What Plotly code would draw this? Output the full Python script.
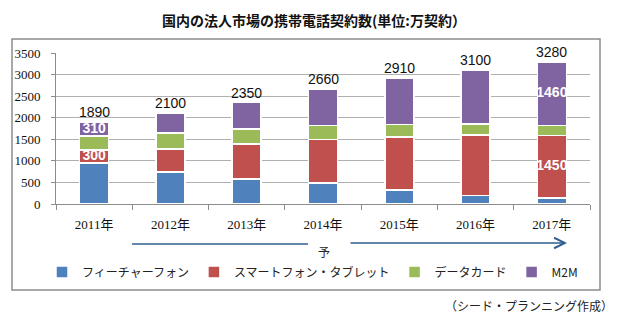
import plotly.graph_objects as go

years = ["2011年", "2012年", "2013年", "2014年", "2015年", "2016年", "2017年"]
feature_phone = [950, 740, 580, 490, 330, 200, 140]
smartphone = [300, 540, 810, 1010, 1220, 1400, 1450]
data_card = [330, 370, 350, 320, 290, 250, 230]
m2m = [310, 450, 610, 840, 1070, 1250, 1460]

series_names = ["フィーチャーフォン", "スマートフォン・タブレット", "データカード", "M2M"]
series_values = [feature_phone, smartphone, data_card, m2m]
colors = ["#4F81BD", "#C0504D", "#9BBB59", "#8064A2"]

# labelled segments inside bars: (series index, year index)
inside_labels = [(3, 0), (1, 0), (3, 6), (1, 6)]

W, H = 624, 328
L, R, T, B = 56, 34, 53, 124
pw, ph = W - L - R, H - T - B


def px(x):
    return (x - L) / pw


def py(y):
    return (H - B - y) / ph


fig = go.Figure()
for name, vals, col in zip(series_names, series_values, colors):
    fig.add_trace(go.Bar(
        x=years, y=vals, name=name,
        marker=dict(color=col, line=dict(color="white", width=1.5)),
        width=0.38,
    ))

totals = [sum(v) for v in zip(*series_values)]
for yr, t in zip(years, totals):
    fig.add_annotation(x=yr, y=t, text=str(t), showarrow=False,
                       yanchor="bottom", xanchor="center", yshift=0,
                       font=dict(family="Liberation Sans, Arial", size=14, color="#111"))

lx, ly, lt = [], [], []
for si, yi in inside_labels:
    base = sum(series_values[k][yi] for k in range(si))
    lx.append(years[yi])
    ly.append(base + series_values[si][yi] / 2)
    lt.append(str(series_values[si][yi]))
fig.add_trace(go.Scatter(
    x=lx, y=ly, mode="text", text=lt, textposition="middle center",
    showlegend=False, hoverinfo="skip", cliponaxis=False,
    textfont=dict(family="Liberation Sans, Arial", size=14, color="white", weight="bold"),
))

# outer frame
fig.add_shape(type="rect", xref="paper", yref="paper",
              x0=px(12), x1=px(600), y0=py(290), y1=py(39),
              line=dict(color="#8C8C8C", width=1.5), layer="below")
# forecast arrow
fig.add_shape(type="line", xref="paper", yref="paper",
              x0=px(132), x1=px(308), y0=py(244), y1=py(244),
              line=dict(color="#2F5F8F", width=1.5))
fig.add_annotation(xref="paper", yref="paper", x=px(567), y=py(243),
                   ax=-(567 - 349), ay=0, text="", showarrow=True,
                   arrowhead=5, arrowsize=1.6, arrowwidth=1.3, arrowcolor="#2F5F8F")
fig.add_annotation(xref="paper", yref="paper", x=px(324), y=py(251),
                   yanchor="middle", xanchor="center",
                   text="予", showarrow=False,
                   font=dict(family="Noto Sans CJK JP", size=12, color="#222"))
fig.add_annotation(xref="paper", yref="paper", x=px(615), y=py(305),
                   xanchor="right", yanchor="middle",
                   text="（シード・プランニング作成）", showarrow=False,
                   font=dict(family="Noto Sans CJK JP", size=12, color="#222"))

fig.update_layout(
    width=W, height=H,
    margin=dict(l=L, r=R, t=T, b=B),
    barmode="stack",
    paper_bgcolor="white", plot_bgcolor="white",
    title=dict(text="国内の法人市場の携帯電話契約数(単位:万契約）",
               x=314 / W, xanchor="center", y=1 - 21 / H, yanchor="middle",
               font=dict(family="Noto Sans CJK JP", size=14, color="#111", weight="bold")),
    legend=dict(orientation="h", x=px(42), y=py(272), yanchor="middle",
                xanchor="left", bgcolor="rgba(0,0,0,0)", traceorder="normal",
                font=dict(family="Noto Sans CJK JP", size=12, color="#222"),
                itemwidth=30, tracegroupgap=0),
    showlegend=True,
)
fig.update_xaxes(
    tickson="boundaries", ticks="outside", ticklen=5, tickcolor="#8C8C8C",
    showline=True, linecolor="#8C8C8C", linewidth=1,
    ticklabelstandoff=8,
    tickfont=dict(family="Liberation Serif, Noto Sans CJK JP", size=13, color="#111"),
    fixedrange=True,
)
fig.update_yaxes(
    range=[0, 3500], dtick=500, ticks="outside", ticklen=4, tickcolor="#8C8C8C",
    showline=True, linecolor="#8C8C8C", linewidth=1,
    showgrid=True, gridcolor="#B0B0B0", gridwidth=1, zeroline=False,
    ticklabelstandoff=8,
    tickfont=dict(family="Liberation Serif", size=13, color="#111"),
    fixedrange=True,
)

fig.write_html("out.html", config={"displayModeBar": False})
